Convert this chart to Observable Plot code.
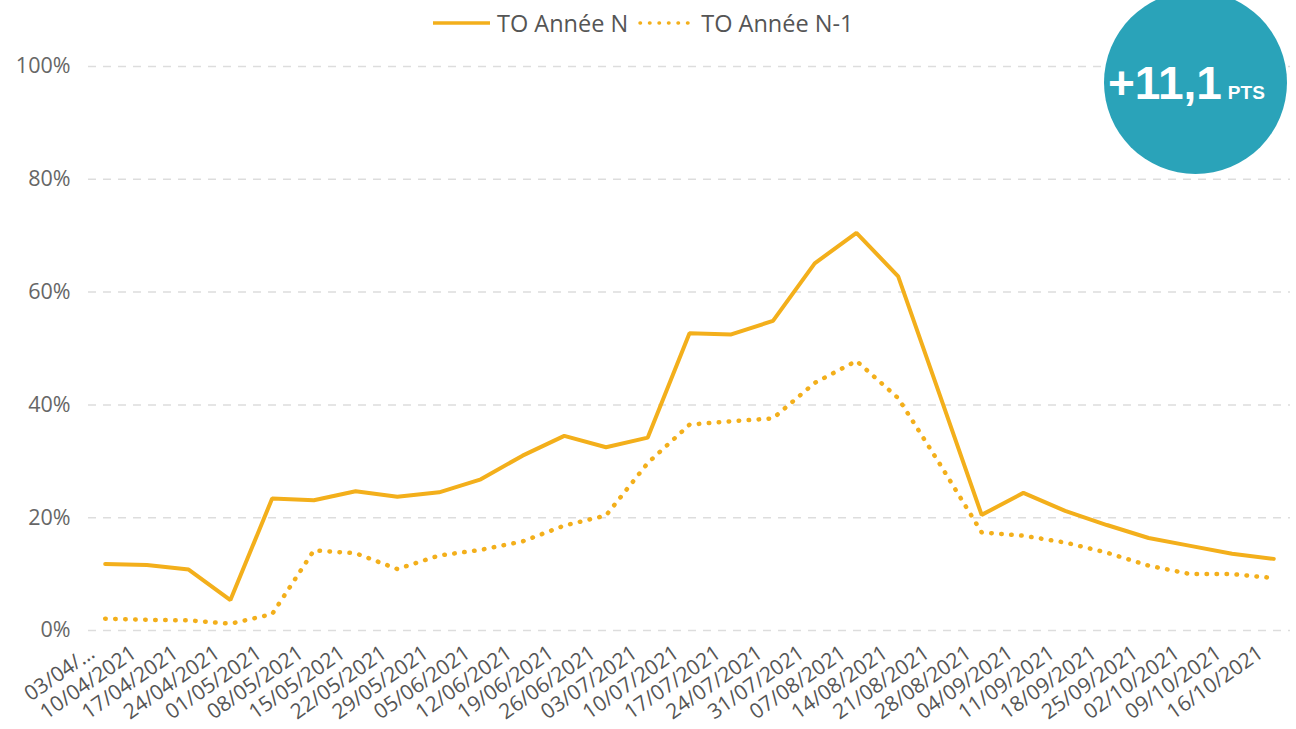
<!DOCTYPE html>
<html>
<head>
<meta charset="utf-8">
<script src="https://cdn.jsdelivr.net/npm/d3@7"></script>
<script src="https://cdn.jsdelivr.net/npm/@observablehq/plot@0.6"></script>
<style>
  body { margin: 0; background: #fff; font-family: "Open Sans", "Noto Sans", sans-serif; }
  #wrap { position: relative; width: 1296px; height: 729px; overflow: hidden; background: #fff; }
  #chart { position: absolute; left: 0; top: 0; }
  #legend { position: absolute; left: 433px; top: 7px; height: 32px; display: flex; align-items: center; font-size: 23.5px; color: #555; white-space: nowrap; }
  #legend .item { display: flex; align-items: center; }
  #legend svg { margin-right: 7px; }
  #badge { position: absolute; left: 1104px; top: -9px; width: 183px; height: 183px; border-radius: 50%; background: #2AA3B9; }
  #badge .txt { position: absolute; left: 4px; top: 69px; color: #fff; font-family: "Liberation Sans", Arial, sans-serif; font-weight: bold; white-space: nowrap; line-height: 1; }
  #badge .big { font-size: 46px; }
  #badge .small { font-size: 19px; margin-left: 6px; }
</style>
</head>
<body>
<div id="wrap">
  <div id="chart"></div>
  <div id="legend"></div>
  <div id="badge"><div class="txt"><span class="big"></span><span class="small"></span></div></div>
</div>
<script>
// ---- data ----
const dates = ["03/04/2021","10/04/2021","17/04/2021","24/04/2021","01/05/2021","08/05/2021","15/05/2021","22/05/2021","29/05/2021","05/06/2021","12/06/2021","19/06/2021","26/06/2021","03/07/2021","10/07/2021","17/07/2021","24/07/2021","31/07/2021","07/08/2021","14/08/2021","21/08/2021","28/08/2021","04/09/2021","11/09/2021","18/09/2021","25/09/2021","02/10/2021","09/10/2021","16/10/2021"];
const tickLabels = ["03/04/…","10/04/2021","17/04/2021","24/04/2021","01/05/2021","08/05/2021","15/05/2021","22/05/2021","29/05/2021","05/06/2021","12/06/2021","19/06/2021","26/06/2021","03/07/2021","10/07/2021","17/07/2021","24/07/2021","31/07/2021","07/08/2021","14/08/2021","21/08/2021","28/08/2021","04/09/2021","11/09/2021","18/09/2021","25/09/2021","02/10/2021","09/10/2021","16/10/2021"];
const toN  = [11.8, 11.6, 10.8, 5.4, 23.4, 23.1, 24.7, 23.7, 24.5, 26.8, 31.0, 34.5, 32.5, 34.2, 52.7, 52.5, 54.9, 65.1, 70.5, 62.8, 41.7, 20.5, 24.4, 21.2, 18.7, 16.4, 15.0, 13.6, 12.7];
const toN1 = [2.1, 1.9, 1.8, 1.2, 2.9, 14.2, 13.7, 10.9, 13.3, 14.3, 15.8, 18.6, 20.4, 29.7, 36.5, 37.1, 37.6, 43.9, 47.8, 41.2, 29.5, 17.4, 16.8, 15.6, 13.8, 11.5, 10.0, 10.0, 9.3];
const yTicks = [0, 20, 40, 60, 80, 100];
const seriesNames = ["TO Année N", "TO Année N-1"];
const badgeValue = "+11,1";
const badgeUnit = "PTS";

const lineColor = "#F3AF1B";

const rowsN = dates.map((d, i) => ({date: d, value: toN[i], series: seriesNames[0]}));
const rowsN1 = dates.map((d, i) => ({date: d, value: toN1[i], series: seriesNames[1]}));

const chart = Plot.plot({
  width: 1296,
  height: 729,
  marginTop: 66,
  marginBottom: 99,
  marginLeft: 88,
  marginRight: 6,
  x: {type: "point", domain: dates, padding: 0.4, round: false, label: null},
  y: {domain: [0, 100], label: null},
  style: {fontFamily: "'Open Sans', 'Noto Sans', sans-serif", fontSize: "22px", color: "#666", background: "transparent"},
  marks: [
    Plot.gridY(yTicks, {stroke: "#dddddd", strokeOpacity: 1, strokeWidth: 1.5, strokeDasharray: "8 7"}),
    Plot.axisY(yTicks, {tickSize: 0, tickPadding: 18, tickFormat: d => d + "%", fill: "#666", fontSize: 21.5, label: null}),
    Plot.axisX({tickSize: 0, tickPadding: 20, dx: -13, tickRotate: -35, tickFormat: d => tickLabels[dates.indexOf(d)], fill: "#555", fontSize: 21, label: null}),
    Plot.line(rowsN1, {x: "date", y: "value", stroke: lineColor, strokeWidth: 4.5, strokeDasharray: "0.5 9.5", strokeLinecap: "round"}),
    Plot.line(rowsN, {x: "date", y: "value", stroke: lineColor, strokeWidth: 4, strokeLinejoin: "miter"})
  ]
});
document.getElementById("chart").appendChild(chart);

// legend
const legend = document.getElementById("legend");
legend.innerHTML = `
  <div class="item"><svg width="57" height="10"><line x1="0" y1="5" x2="57" y2="5" stroke="${lineColor}" stroke-width="3.5"/></svg><span>${seriesNames[0]}</span></div>
  <div class="item" style="margin-left:10px"><svg width="56" height="10"><line x1="2" y1="5" x2="55" y2="5" stroke="${lineColor}" stroke-width="3.5" stroke-dasharray="0.5 9" stroke-linecap="round"/></svg><span>${seriesNames[1]}</span></div>`;

document.querySelector("#badge .big").textContent = badgeValue;
document.querySelector("#badge .small").textContent = badgeUnit;
</script>
</body>
</html>
